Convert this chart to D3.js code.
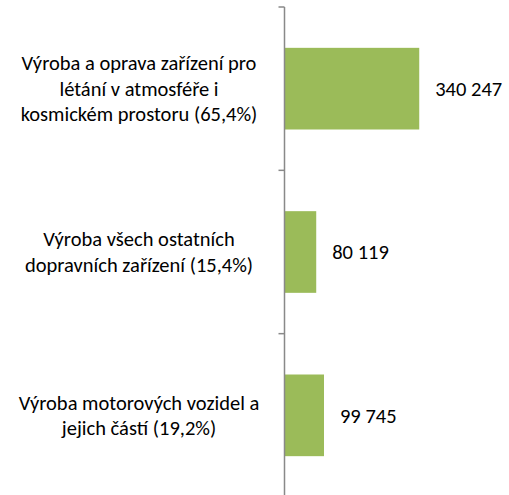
<!DOCTYPE html>
<meta charset="utf-8">
<head>
<style>
body { margin: 0; background: #fff; }
text { font-family: Calibri, Carlito, Lato, sans-serif; fill: #000; }
.axis path, .axis line { stroke: #898989; stroke-width: 1.5px; }
</style>
</head>
<body>
<script src="https://d3js.org/d3.v7.min.js"></script>
<script>

// categories (line breaks as in the original wrapped labels)
var categories = [
  "Výroba a oprava zařízení pro\nlétání v atmosféře i\nkosmickém prostoru (65,4%)",
  "Výroba všech ostatních\ndopravních zařízení (15,4%)",
  "Výroba motorových vozidel a\njejich částí (19,2%)"
];
var values = [340247, 80119, 99745];
var xMax = 500000;

var width = 509, height = 495;
var axisX = 284.5;
var fontSize = "20.5px";

var svg = d3.select("body").append("svg")
    .attr("width", width)
    .attr("height", height);

var x = d3.scaleLinear()
  .domain([0, xMax])
  .range([axisX, 482.5]);

var y = d3.scaleBand()
  .domain(categories)
  .range([7, 497])
  .paddingInner(0.5)
  .paddingOuter(0.25);

// czech number format: space as thousands separator
var fmt = d3.formatLocale({decimal: ",", thousands: " ", grouping: [3], currency: ["", " Kč"]}).format(",d");

// bars
svg.selectAll(".bar")
    .data(values)
  .enter().append("rect")
    .attr("class", "bar")
    .attr("x", x(0))
    .attr("y", function(d, i) { return y(categories[i]); })
    .attr("width", function(d) { return x(d) - x(0); })
    .attr("height", y.bandwidth())
    .attr("fill", "#9bbb59");

// value labels
svg.selectAll(".val")
    .data(values)
  .enter().append("text")
    .attr("class", "val")
    .attr("x", function(d) { return x(d) + 16; })
    .attr("y", function(d, i) { return y(categories[i]) + y.bandwidth() / 2; })
    .attr("dy", "0.35em")
    .style("font-size", fontSize)
    .text(function(d) { return fmt(d); });

// vertical axis line with ticks at band boundaries
var step = y.step();
var bounds = d3.range(categories.length + 1).map(function(i) { return 7 + i * step; });
var ax = svg.append("g").attr("class", "axis");
ax.append("line")
    .attr("x1", axisX).attr("x2", axisX)
    .attr("y1", 7).attr("y2", 497);
ax.selectAll(".tick")
    .data(bounds)
  .enter().append("line")
    .attr("x1", axisX - 6).attr("x2", axisX)
    .attr("y1", function(d) { return d; })
    .attr("y2", function(d) { return d; });

// category labels, centred lines
var lineH = 25.5;
svg.selectAll(".cat")
    .data(categories)
  .enter().append("text")
    .attr("class", "cat")
    .attr("text-anchor", "middle")
    .style("font-size", fontSize)
    .each(function(c) {
      var lines = c.split("\n");
      var cy = y(c) + y.bandwidth() / 2;
      var t = d3.select(this);
      lines.forEach(function(l, i) {
        t.append("tspan")
          .attr("x", 139)
          .attr("y", cy + (i - (lines.length - 1) / 2) * lineH)
          .attr("dy", "0.35em")
          .text(l);
      });
    });

</script>
</body>
